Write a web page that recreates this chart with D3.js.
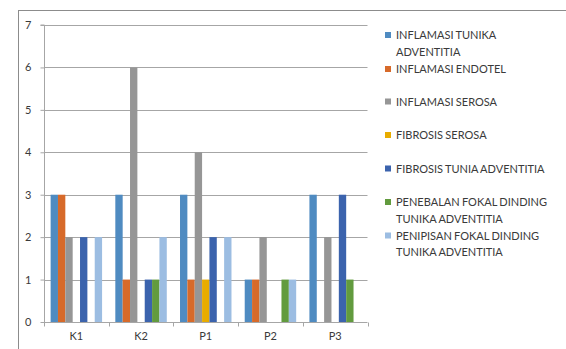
<!DOCTYPE html>
<html>
<head>
<meta charset="utf-8">
<script src="https://cdn.jsdelivr.net/npm/d3@7/dist/d3.min.js"></script>
<style>
  html, body { margin: 0; padding: 0; background: #fff; }
  svg { display: block; font-family: Lato, "Open Sans", sans-serif; }
</style>
</head>
<body>
<svg id="chart" width="566" height="349"></svg>
<script>
// Groups along the x axis
const categories = ["K1", "K2", "P1", "P2", "P3"];

// Series names (legend lines) and values per group
const seriesNames = [
  ["INFLAMASI TUNIKA", "ADVENTITIA"],
  ["INFLAMASI ENDOTEL"],
  ["INFLAMASI SEROSA"],
  ["FIBROSIS SEROSA"],
  ["FIBROSIS TUNIA ADVENTITIA"],
  ["PENEBALAN FOKAL DINDING", "TUNIKA ADVENTITIA"],
  ["PENIPISAN FOKAL DINDING", "TUNIKA ADVENTITIA"]
];
const inflamasiTunika   = [3, 3, 3, 1, 3];
const inflamasiEndotel  = [3, 1, 1, 1, 0];
const inflamasiSerosa   = [2, 6, 4, 2, 2];
const fibrosisSerosa    = [0, 0, 1, 0, 0];
const fibrosisTunia     = [2, 1, 2, 0, 3];
const penebalanFokal    = [0, 1, 0, 1, 1];
const penipisanFokal    = [2, 2, 2, 1, 0];
const yTicks = [0, 1, 2, 3, 4, 5, 6, 7];

const seriesValues = [inflamasiTunika, inflamasiEndotel, inflamasiSerosa,
  fibrosisSerosa, fibrosisTunia, penebalanFokal, penipisanFokal];
const colors = ["#4f8bc1", "#d76a2a", "#969696", "#e8ac00", "#3b63ad", "#629b3e", "#9cbde2"];

const svg = d3.select("#chart");

// Outer chart frame (extends past the right and bottom edges)
svg.append("rect")
  .attr("x", 18.5).attr("y", 10.5)
  .attr("width", 600).attr("height", 400)
  .attr("fill", "none").attr("stroke", "#8c8c8c").attr("stroke-width", 1);

const plot = { left: 44, right: 367.5, top: 25, bottom: 322 };

const x0 = d3.scaleBand().domain(categories).range([plot.left, plot.right]).paddingInner(0).paddingOuter(0);
const x1 = d3.scaleBand().domain(d3.range(seriesValues.length))
  .range([0, x0.bandwidth()]).paddingInner(0).paddingOuter(0.9);
const y = d3.scaleLinear().domain([0, 7]).range([plot.bottom, plot.top]);

// Horizontal gridlines
svg.append("g").selectAll("line").data(yTicks.filter(d => d > 0)).join("line")
  .attr("x1", plot.left).attr("x2", plot.right)
  .attr("y1", d => Math.round(y(d)) + 0.5).attr("y2", d => Math.round(y(d)) + 0.5)
  .attr("stroke", "#a6a6a6").attr("stroke-width", 1);

// Bars
const groups = svg.append("g").selectAll("g").data(categories).join("g")
  .attr("transform", c => `translate(${x0(c)},0)`);
groups.selectAll("rect")
  .data((c, ci) => seriesValues.map((vals, si) => ({ si, v: vals[ci] })).filter(d => d.v > 0))
  .join("rect")
  .attr("x", d => x1(d.si))
  .attr("width", x1.bandwidth())
  .attr("y", d => y(d.v))
  .attr("height", d => y(0) - y(d.v))
  .attr("fill", d => colors[d.si]);

// Y axis
const yAxis = d3.axisLeft(y).tickValues(yTicks).tickSize(4).tickPadding(9).tickFormat(d3.format("d"));
const gy = svg.append("g").attr("transform", `translate(${plot.left + 0.5},0)`).call(yAxis);
gy.select(".domain").attr("stroke", "#a6a6a6").attr("d", `M-4,${y(7)}H0V${y(0)}`);
gy.selectAll(".tick line").attr("stroke", "#a6a6a6");
gy.selectAll(".tick text").attr("font-size", 11).attr("fill", "#3a3a3a")
  .attr("font-family", "Lato, sans-serif");

// X axis with ticks at category boundaries
const gx = svg.append("g").attr("transform", `translate(0,${Math.round(y(0)) + 0.5})`);
gx.append("line").attr("x1", plot.left).attr("x2", plot.right)
  .attr("stroke", "#a6a6a6");
const bounds = categories.map(c => x0(c)).concat([plot.right]);
gx.selectAll("line.tk").data(bounds).join("line").attr("class", "tk")
  .attr("x1", d => Math.round(d) + 0.5).attr("x2", d => Math.round(d) + 0.5)
  .attr("y1", 0).attr("y2", 4).attr("stroke", "#a6a6a6");
gx.selectAll("text").data(categories).join("text")
  .attr("x", c => x0(c) + x0.bandwidth() / 2)
  .attr("y", 17)
  .attr("text-anchor", "middle")
  .attr("font-size", 11).attr("fill", "#3a3a3a")
  .text(c => c);

// Legend
const legendY = [35, 69, 101.5, 135, 168.5, 202, 235.5];
const lg = svg.append("g");
seriesNames.forEach((lines, i) => {
  const g = lg.append("g").attr("transform", `translate(385,${legendY[i]})`);
  g.append("rect").attr("x", 0).attr("y", -3).attr("width", 6).attr("height", 6).attr("fill", colors[i]);
  lines.forEach((t, k) => {
    g.append("text").attr("x", 11).attr("y", k * 16.7 + 4)
      .attr("font-size", 11).attr("fill", "#3a3a3a")
      .attr("word-spacing", -0.5)
      .text(t);
  });
});
</script>
</body>
</html>
